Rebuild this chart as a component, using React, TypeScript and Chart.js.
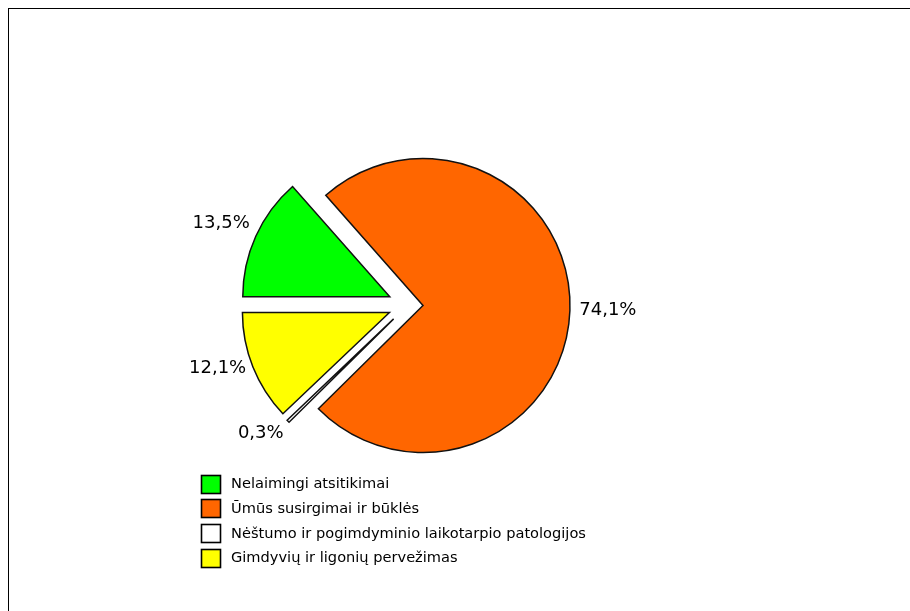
import React, { useEffect, useRef } from "react";
import { Chart, registerables } from "chart.js";

Chart.register(...registerables);

// ---- data ----
const categories = [
  "Nelaimingi atsitikimai",
  "Ūmūs susirgimai ir būklės",
  "Nėštumo ir pogimdyminio laikotarpio patologijos",
  "Gimdyvių ir ligonių pervežimas",
];
const shares = [13.5, 74.1, 0.3, 12.1];
const percentLabels = ["13,5%", "74,1%", "0,3%", "12,1%"];

// ---- styles ----
const sliceColors = ["#00FF00", "#FF6600", "#FFFFFF", "#FFFF00"];
const explodePx = [20, 15, 20, 20];
const labelGap = 38;
const labelLift = [-3, 2, 14, 13];
const PIE_RADIUS = 147;
const LEGEND_X = 201;
const LEGEND_Y0 = 483.5;
const LEGEND_STEP = 24.9;

const explodePlugin = {
  id: "explodeSlices",
  afterDatasetsUpdate(chart: any) {
    const meta = chart.getDatasetMeta(0);
    meta.data.forEach((arc: any, i: number) => {
      const mid = (arc.startAngle + arc.endAngle) / 2;
      arc.x += Math.cos(mid) * explodePx[i];
      arc.y += Math.sin(mid) * explodePx[i];
    });
  },
};

const labelPlugin = {
  id: "pctLabels",
  afterDatasetsDraw(chart: any) {
    const ctx = chart.ctx;
    const meta = chart.getDatasetMeta(0);
    ctx.save();
    ctx.font = '18px "DejaVu Sans"';
    ctx.fillStyle = "#000";
    ctx.textAlign = "center";
    ctx.textBaseline = "middle";
    meta.data.forEach((arc: any, i: number) => {
      const mid = (arc.startAngle + arc.endAngle) / 2;
      const r = arc.outerRadius + labelGap;
      const x = arc.x + Math.cos(mid) * r;
      const y = arc.y + Math.sin(mid) * r - labelLift[i];
      ctx.fillText(percentLabels[i], x, y);
    });
    ctx.restore();
  },
};

const legendPlugin = {
  id: "colLegend",
  afterDraw(chart: any) {
    const ctx = chart.ctx;
    ctx.save();
    ctx.font = '14.6px "DejaVu Sans"';
    ctx.textAlign = "left";
    ctx.textBaseline = "middle";
    categories.forEach((name, i) => {
      const cy = LEGEND_Y0 + i * LEGEND_STEP;
      ctx.fillStyle = sliceColors[i];
      ctx.fillRect(LEGEND_X, Math.round(cy - 9), 19, 18);
      ctx.strokeStyle = "#000";
      ctx.lineWidth = 1.6;
      ctx.strokeRect(LEGEND_X + 0.5, Math.round(cy - 9) + 0.5, 19, 18);
      ctx.fillStyle = "#000";
      ctx.fillText(name, LEGEND_X + 30, cy + 0.5);
    });
    ctx.restore();
  },
};

export default function App() {
  const canvasRef = useRef<HTMLCanvasElement | null>(null);

  useEffect(() => {
    if (!canvasRef.current) return;
    const chart = new Chart(canvasRef.current, {
      type: "pie",
      data: {
        labels: categories,
        datasets: [
          {
            data: shares,
            backgroundColor: sliceColors,
            borderColor: "#111",
            borderWidth: 1.5,
            borderJoinStyle: "miter",
          } as any,
        ],
      },
      options: {
        responsive: false,
        animation: false,
        rotation: 270,
        radius: PIE_RADIUS,
        layout: { padding: { left: 0, right: 94, top: 0, bottom: 1 } },
        plugins: {
          legend: { display: false },
          tooltip: { enabled: false },
        },
      } as any,
      plugins: [explodePlugin, labelPlugin, legendPlugin],
    });
    return () => chart.destroy();
  }, []);

  return (
    <div
      style={{
        position: "fixed",
        left: 0,
        top: 0,
        width: 910,
        height: 611,
        overflow: "hidden",
        background: "#fff",
      }}
    >
      <div
        style={{
          position: "absolute",
          left: 8,
          top: 8,
          width: 1000,
          height: 1000,
          borderTop: "1px solid #000",
          borderLeft: "1px solid #000",
        }}
      />
      <canvas
        ref={canvasRef}
        width={910}
        height={611}
        style={{ position: "absolute", left: 0, top: 0, display: "block" }}
      />
    </div>
  );
}
